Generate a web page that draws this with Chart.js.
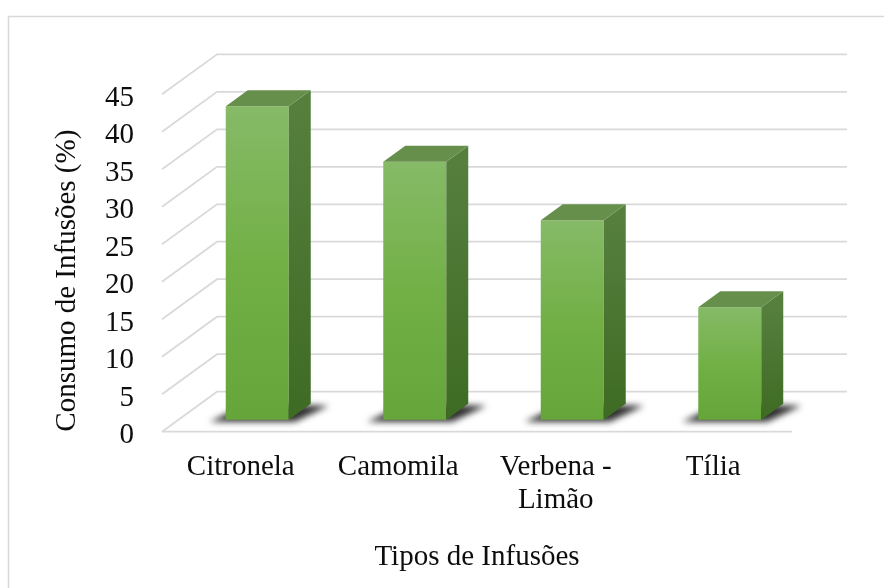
<!DOCTYPE html>
<html>
<head>
<meta charset="utf-8">
<script src="https://cdn.jsdelivr.net/npm/chart.js@4.4.1/dist/chart.umd.min.js"></script>
<style>
html, body { margin: 0; padding: 0; background: #ffffff; }
canvas { display: block; }
</style>
</head>
<body>
<canvas id="chart" width="884" height="588"></canvas>
<script>
// ---- data ----
const categories = ['Citronela', 'Camomila', ['Verbena -', 'Limão'], 'Tília'];
const consumo = [41.8, 34.4, 26.6, 15.0];
const yMin = 0;
const yMax = 45;
const yStep = 5;
const xTitle = 'Tipos de Infusões';
const yTitle = 'Consumo de Infusões (%)';

// ---- style ----
const FONT = 'Liberation Serif';
const TEXT = '#0d0d0d';
const GRID = '#d9d9d9';
const DEPTH = { x: 55, y: -40 };   // 3D depth of the floor / walls
const BAR_FRONT = 0.3;             // bar front plane, fraction of depth
const BAR_DEPTH = 0.4;             // bar depth, fraction of depth

function frontGradient(context) {
  const chart = context.chart;
  const y = chart.scales && chart.scales.y;
  if (!y || context.type !== 'data' || !chart.chartArea) return '#72b046';
  const top = y.getPixelForValue(context.raw);
  const base = y.getPixelForValue(0);
  if (!isFinite(top) || !isFinite(base) || top === base) return '#72b046';
  const g = chart.ctx.createLinearGradient(0, top, 0, base);
  g.addColorStop(0, '#86ba67');
  g.addColorStop(0.5, '#72b046');
  g.addColorStop(1, '#65a53a');
  return g;
}

const threeD = {
  id: 'threeD',
  beforeDraw(chart) {
    const ctx = chart.ctx;
    ctx.save();
    ctx.strokeStyle = '#d9d9d9';
    ctx.lineWidth = 1.5;
    ctx.beginPath();
    ctx.moveTo(8.5, chart.height + 2);
    ctx.lineTo(8.5, 16.5);
    ctx.lineTo(chart.width + 2, 16.5);
    ctx.stroke();
    ctx.restore();
  },
  beforeDatasetsDraw(chart) {
    const ctx = chart.ctx;
    const { left, right } = chart.chartArea;
    const ys = chart.scales.y;
    // walls / floor gridlines
    ctx.save();
    ctx.strokeStyle = GRID;
    ctx.lineWidth = 1.75;
    ys.ticks.forEach(t => {
      const py = ys.getPixelForValue(t.value);
      ctx.beginPath();
      ctx.moveTo(left, py);
      ctx.lineTo(left + DEPTH.x, py + DEPTH.y);
      ctx.lineTo(right + DEPTH.x, py + DEPTH.y);
      ctx.stroke();
      if (t.value === yMin) {
        ctx.beginPath();
        ctx.moveTo(left, py);
        ctx.lineTo(right, py);
        ctx.stroke();
      }
    });
    ctx.restore();

    // move into the bars' plane
    ctx.save();
    ctx.translate(DEPTH.x * BAR_FRONT, DEPTH.y * BAR_FRONT);

    // floor shadows
    const dx = DEPTH.x * BAR_DEPTH, dy = DEPTH.y * BAR_DEPTH;
    const meta = chart.getDatasetMeta(0);
    ctx.save();
    ctx.filter = 'blur(3px)';
    ctx.fillStyle = 'rgba(25,25,25,0.9)';
    meta.data.forEach(bar => {
      const { x, width, base } = bar.getProps(['x', 'width', 'base'], true);
      const l = x - width / 2, r = x + width / 2;
      ctx.beginPath();
      ctx.moveTo(l - 16, base + 2);
      ctx.lineTo(r + 6, base + 2);
      ctx.lineTo(r + dx + 18, base + dy + 2);
      ctx.lineTo(l + dx, base + dy);
      ctx.closePath();
      ctx.fill();
    });
    ctx.restore();
  },
  afterDatasetsDraw(chart) {
    const ctx = chart.ctx;
    const dx = DEPTH.x * BAR_DEPTH, dy = DEPTH.y * BAR_DEPTH;
    const meta = chart.getDatasetMeta(0);
    meta.data.forEach(bar => {
      const { x, y, width, base } = bar.getProps(['x', 'y', 'width', 'base'], true);
      const l = x - width / 2, r = x + width / 2;
      // side face
      const gs = ctx.createLinearGradient(0, y, 0, base);
      gs.addColorStop(0, '#567f3e');
      gs.addColorStop(1, '#3e6b23');
      ctx.fillStyle = gs;
      ctx.beginPath();
      ctx.moveTo(r, y);
      ctx.lineTo(r + dx, y + dy);
      ctx.lineTo(r + dx, base + dy);
      ctx.lineTo(r, base);
      ctx.closePath();
      ctx.fill();
      // top face
      ctx.fillStyle = '#678f4c';
      ctx.beginPath();
      ctx.moveTo(l, y);
      ctx.lineTo(l + dx, y + dy);
      ctx.lineTo(r + dx, y + dy);
      ctx.lineTo(r, y);
      ctx.closePath();
      ctx.fill();
    });
    ctx.restore(); // leave the bars' plane
  }
};

new Chart(document.getElementById('chart'), {
  type: 'bar',
  data: {
    labels: categories,
    datasets: [{
      data: consumo,
      backgroundColor: frontGradient,
      borderWidth: 0,
      barPercentage: 0.4,
      categoryPercentage: 1.0,
      clip: false
    }]
  },
  options: {
    responsive: false,
    animation: false,
    devicePixelRatio: 1,
    layout: { padding: { top: 94.3, left: 8, right: 92, bottom: 13.4 } },
    plugins: { legend: { display: false }, tooltip: { enabled: false } },
    scales: {
      x: {
        type: 'category',
        grid: { display: false, drawTicks: false },
        border: { display: false },
        ticks: {
          color: TEXT,
          font: { family: FONT, size: 29, lineHeight: 1.15 },
          padding: 19,
          maxRotation: 0,
          autoSkip: false
        },
        title: {
          display: true,
          text: xTitle,
          color: TEXT,
          font: { family: FONT, size: 29, lineHeight: 1.2 },
          padding: { top: 0, bottom: 0 }
        },
        afterFit(scale) { scale.height = 142.9; }
      },
      y: {
        min: yMin,
        max: yMax,
        grid: { display: false, drawTicks: false },
        border: { display: false },
        ticks: {
          stepSize: yStep,
          autoSkip: false,
          color: TEXT,
          font: { family: FONT, size: 29 },
          padding: 28,
          labelOffset: 4
        },
        title: {
          display: true,
          text: yTitle,
          align: 'start',
          color: TEXT,
          font: { family: FONT, size: 29, lineHeight: 1.2 },
          padding: { top: 41.6, bottom: 0 }
        },
        afterFit(scale) { scale.width = 154; }
      }
    }
  },
  plugins: [threeD]
});
</script>
</body>
</html>
